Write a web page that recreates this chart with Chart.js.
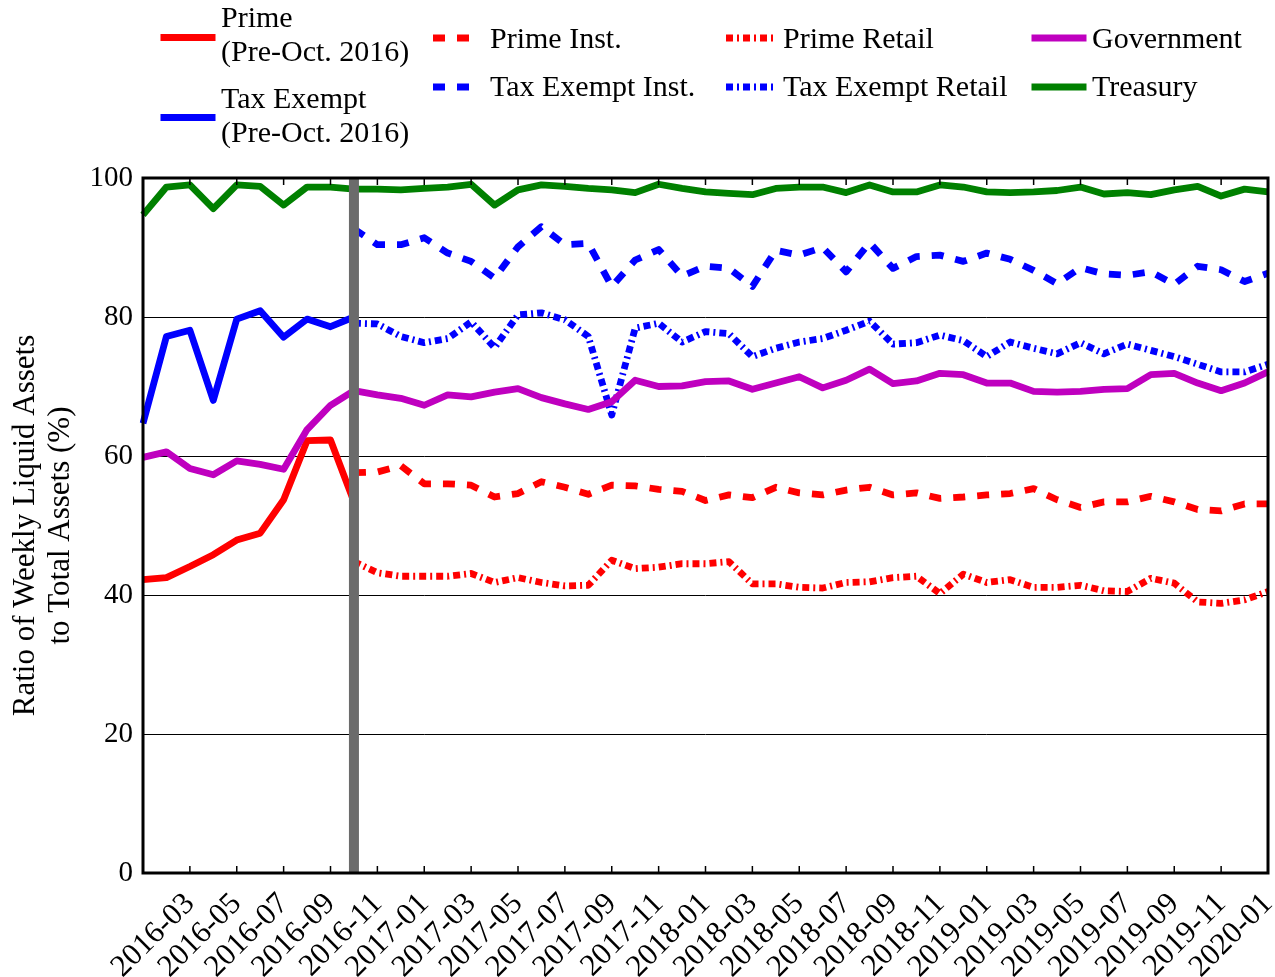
<!DOCTYPE html>
<html>
<head>
<meta charset="utf-8">
<script src="https://cdn.jsdelivr.net/npm/chart.js@4.4.1/dist/chart.umd.min.js"></script>
<style>html,body{margin:0;background:#fff}canvas{display:block}</style>
</head>
<body>
<canvas id="c" width="1275" height="977"></canvas>
<script>
// monthly, 2016-01 .. 2020-01
const months=['2016-01','2016-02','2016-03','2016-04','2016-05','2016-06','2016-07','2016-08','2016-09','2016-10','2016-11','2016-12',
  '2017-01','2017-02','2017-03','2017-04','2017-05','2017-06','2017-07','2017-08','2017-09','2017-10','2017-11','2017-12',
  '2018-01','2018-02','2018-03','2018-04','2018-05','2018-06','2018-07','2018-08','2018-09','2018-10','2018-11','2018-12',
  '2019-01','2019-02','2019-03','2019-04','2019-05','2019-06','2019-07','2019-08','2019-09','2019-10','2019-11','2019-12','2020-01'];
const reformMonth='2016-10';

// pre-reform series (2016-01 .. 2016-10)
const prime=[42.2,42.5,44.1,45.8,47.9,48.9,53.7,62.2,62.3,53.4];
const taxExempt=[64.7,77.2,78.1,68.0,79.7,80.9,77.1,79.7,78.6,80.0];
// post-reform series (2016-10 .. 2020-01)
const primeInst=[57.6,57.7,58.6,56.0,56.0,55.8,54.1,54.6,56.3,55.5,54.5,55.8,55.7,55.2,54.9,53.6,54.4,54.0,55.5,54.7,
  54.4,55.1,55.5,54.4,54.7,53.9,54.1,54.4,54.6,55.3,53.7,52.6,53.4,53.4,54.2,53.4,52.3,52.1,53.1,53.1];
const taxExemptInst=[92.7,90.4,90.4,91.4,89.2,88.0,85.6,90.1,93.0,90.4,90.6,84.4,88.2,89.7,85.9,87.3,87.0,84.4,89.6,88.9,
  90.0,86.5,90.7,87.0,88.7,88.9,88.0,89.2,88.3,86.7,84.8,87.1,86.2,86.0,86.5,84.7,87.3,86.8,85.1,86.3];
const primeRetail=[44.8,43.2,42.7,42.7,42.7,43.1,41.8,42.5,41.8,41.3,41.4,45.0,43.8,44.0,44.5,44.5,44.8,41.6,41.6,41.1,
  41.0,41.8,41.9,42.5,42.7,40.2,43.0,41.8,42.2,41.1,41.1,41.4,40.6,40.5,42.4,41.7,39.0,38.8,39.3,40.5];
const taxExemptRetail=[79.1,79.0,77.2,76.3,76.9,79.3,75.6,80.3,80.6,79.6,77.2,65.9,78.4,79.1,76.4,77.9,77.6,74.3,75.5,76.4,
  76.9,78.1,79.4,76.1,76.3,77.4,76.6,74.3,76.4,75.5,74.7,76.3,74.7,76.1,75.2,74.3,73.2,72.1,72.1,73.2];
// full period
const government=[59.8,60.6,58.2,57.3,59.3,58.8,58.1,63.8,67.3,69.4,68.8,68.3,67.3,68.8,68.5,69.2,69.7,68.4,67.5,66.7,
  67.8,70.9,70.0,70.1,70.7,70.8,69.6,70.5,71.4,69.8,70.9,72.5,70.4,70.8,71.9,71.7,70.5,70.5,69.3,69.2,
  69.3,69.6,69.7,71.7,71.9,70.5,69.4,70.5,72.1];
const treasury=[94.7,98.7,99.0,95.6,99.0,98.8,96.1,98.7,98.7,98.4,98.4,98.3,98.5,98.7,99.1,96.1,98.3,99.0,98.8,98.5,
  98.3,97.9,99.1,98.5,98.0,97.8,97.6,98.5,98.7,98.7,97.9,99.0,98.0,98.0,99.0,98.7,98.0,97.9,98.0,98.2,
  98.7,97.7,97.9,97.6,98.3,98.8,97.4,98.4,98.0];

const FONT='"Liberation Serif","Times New Roman",serif';
const DASH=[12,12], DASHDOT=[7,4,2,4];
const N=months.length, R=months.indexOf(reformMonth);
const head=v=>v.concat(Array(N-v.length).fill(null));
const tail=v=>Array(N-v.length).fill(null).concat(v);

// legend: col, row, text lines
const series=[
  {label:'Prime',lines:['Prime','(Pre-Oct. 2016)'],data:head(prime),color:'#ff0000',dash:[],col:0,row:0},
  {label:'Tax Exempt',lines:['Tax Exempt','(Pre-Oct. 2016)'],data:head(taxExempt),color:'#0000ff',dash:[],col:0,row:1},
  {label:'Prime Inst.',lines:['Prime Inst.'],data:tail(primeInst),color:'#ff0000',dash:DASH,col:1,row:0},
  {label:'Tax Exempt Inst.',lines:['Tax Exempt Inst.'],data:tail(taxExemptInst),color:'#0000ff',dash:DASH,col:1,row:1},
  {label:'Prime Retail',lines:['Prime Retail'],data:tail(primeRetail),color:'#ff0000',dash:DASHDOT,col:2,row:0},
  {label:'Tax Exempt Retail',lines:['Tax Exempt Retail'],data:tail(taxExemptRetail),color:'#0000ff',dash:DASHDOT,col:2,row:1},
  {label:'Government',lines:['Government'],data:government,color:'#bf00bf',dash:[],col:3,row:0},
  {label:'Treasury',lines:['Treasury'],data:treasury,color:'#008000',dash:[],col:3,row:1}
];

const legendDraw={
  id:'legendDraw',
  afterDraw(chart){
    const ctx=chart.ctx;
    const colX=[164,433,726,1035], hl=48;
    ctx.save();
    ctx.font='30px '+FONT;ctx.fillStyle='#000';ctx.textBaseline='middle';ctx.textAlign='left';
    series.forEach(s=>{
      const x0=colX[s.col];
      let ly, ty;
      if(s.col===0){ly=s.row?117.5:37.5;ty=s.row?[100,134]:[19,53];}
      else {ly=s.row?87:38;ty=[s.row?88:40];}
      ctx.strokeStyle=s.color;ctx.lineWidth=7;ctx.setLineDash(s.dash);
      ctx.lineCap=s.dash.length?'butt':'square';
      ctx.beginPath();ctx.moveTo(x0,ly);ctx.lineTo(x0+hl,ly);ctx.stroke();
      s.lines.forEach((t,i)=>ctx.fillText(t,x0+hl+9,ty[i]));
    });
    ctx.restore();
  }
};

const frame={
  id:'frame',
  afterDatasetsDraw(chart){
    const {ctx,chartArea:a,scales:{x}}=chart;
    ctx.save();
    const xr=x.getPixelForValue(R);
    ctx.fillStyle='#6b6b6b';ctx.fillRect(xr-5,a.top,10,a.bottom-a.top);
    ctx.strokeStyle='#000';ctx.lineWidth=1.5;ctx.beginPath();
    months.forEach((m,i)=>{
      if(i%2===0&&i>0){
        const px=x.getPixelForValue(i);
        ctx.moveTo(px,a.bottom);ctx.lineTo(px,a.bottom-7);
        ctx.moveTo(px,a.top);ctx.lineTo(px,a.top+7);
      }
    });
    ctx.stroke();
    ctx.lineWidth=3;ctx.strokeRect(a.left,a.top,a.right-a.left,a.bottom-a.top);
    ctx.restore();
  }
};

new Chart(document.getElementById('c'),{
  type:'line',
  data:{labels:months,datasets:series.map((s,i)=>({
    label:s.label,data:s.data,borderColor:s.color,backgroundColor:s.color,borderWidth:6.8,
    borderDash:s.dash,borderCapStyle:'butt',borderJoinStyle:'round',pointRadius:0,tension:0,
    spanGaps:false,fill:false,order:series.length-i
  }))},
  options:{
    responsive:false,animation:false,
    layout:{padding:{top:178,right:7,left:0,bottom:0}},
    plugins:{legend:{display:false},tooltip:{enabled:false},title:{display:false}},
    scales:{
      x:{
        grid:{display:false},border:{display:false},
        ticks:{color:'#000',font:{family:FONT,size:31},autoSkip:false,maxRotation:45,minRotation:45,padding:5,
          callback:(v,i)=>(i%2===0&&i>0)?months[i]:null},
        afterFit(s){s.height=104;s.paddingLeft=0;s.paddingRight=0;}
      },
      y:{
        min:0,max:100,
        grid:{color:'#000',lineWidth:1,drawTicks:false},border:{display:false},
        ticks:{stepSize:20,color:'#000',font:{family:FONT,size:29},padding:10},
        title:{display:true,text:['Ratio of Weekly Liquid Assets','to Total Assets (%)'],color:'#000',
          font:{family:FONT,size:31,lineHeight:1.13},padding:{top:8,bottom:0}},
        afterFit(s){s.width=143;s.paddingTop=0;s.paddingBottom=0;}
      }
    }
  },
  plugins:[frame,legendDraw]
});
</script>
</body>
</html>
